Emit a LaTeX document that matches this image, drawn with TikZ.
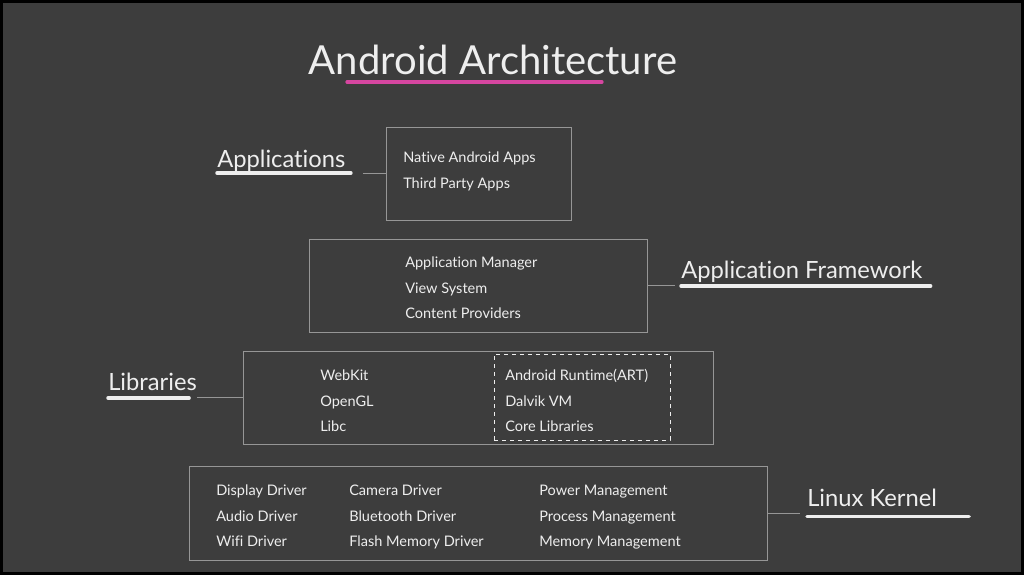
\documentclass[tikz,border=0pt]{standalone}
\usepackage{fontspec}
\setmainfont{Lato}[Ligatures={NoCommon,NoRare}]
\usepackage{tikz}

\definecolor{board}{RGB}{61,61,61}
\definecolor{chalkwhite}{RGB}{238,238,238}
\definecolor{boxline}{RGB}{150,150,150}
\definecolor{chalkpink}{RGB}{214,70,160}

\tikzset{
  box/.style={draw=boxline, line width=0.7pt, inner sep=0pt},
  item/.style={anchor=base west, inner sep=0pt, text=chalkwhite, font=\fontsize{10.9}{12}\selectfont},
  layer/.style={anchor=base west, inner sep=0pt, text=chalkwhite, font=\fontsize{17.8}{20}\selectfont},
  chalk/.style={draw=chalkwhite, line width=2.6pt, line cap=round},
  link/.style={draw=boxline, line width=0.6pt},
}

\begin{document}
\begin{tikzpicture}[x=0.75pt, y=-0.75pt]

\useasboundingbox (0,0) rectangle (1024,575);
\fill[black] (0,0) rectangle (1024,575);
\fill[board] (3,3) rectangle (1021,572);

% title
\node (title) [anchor=base, inner sep=0pt, text=chalkwhite, font=\fontsize{30}{34}\selectfont] at (493,74) {Android Architecture};
\draw[draw=chalkpink, line width=2.4pt, line cap=round]
  ([xshift=-109.5pt, yshift=-6pt]title.base) -- ([xshift=81.75pt, yshift=-6pt]title.base);

% layer boxes
\node (appsbox) [box, minimum width=185*.75pt, minimum height=93*.75pt] at (478.5,173.5) {};
\node (framebox) [box, minimum width=338*.75pt, minimum height=93*.75pt] at (478,285.5) {};
\node (libbox) [box, minimum width=470*.75pt, minimum height=93*.75pt] at (478,397.5) {};
\node (artbox) [box, dashed, draw=chalkwhite, minimum width=176*.75pt, minimum height=86*.75pt] at (582,397) {};
\node (kernelbox) [box, minimum width=578*.75pt, minimum height=94*.75pt] at (478,513) {};

% applications
\node (native) [item] at (403,162) {Native Android Apps};
\node (third) [item] at (403,188) {Third Party Apps};

% application framework
\node (appman) [item] at (405,267) {Application Manager};
\node (viewsys) [item] at (405,293) {View System};
\node (content) [item] at (405,318) {Content Providers};

% libraries
\node (webkit) [item] at (320,380) {WebKit};
\node (opengl) [item] at (320,406) {OpenGL};
\node (libc) [item] at (320,431) {Libc};
\node (art) [item] at (505,380) {Android Runtime(ART)};
\node (dalvik) [item] at (505,406) {Dalvik VM};
\node (corelib) [item] at (505,431) {Core Libraries};

% linux kernel
\node (display) [item] at (216,495) {Display Driver};
\node (audio) [item] at (216,521) {Audio Driver};
\node (wifi) [item] at (216,546) {Wifi Driver};
\node (camera) [item] at (349,495) {Camera Driver};
\node (bluetooth) [item] at (349,521) {Bluetooth Driver};
\node (flash) [item] at (349,546) {Flash Memory Driver};
\node (power) [item] at (539,495) {Power Management};
\node (process) [item] at (539,521) {Process Management};
\node (memory) [item] at (539,546) {Memory Management};

% layer names
\node (appslbl) [layer] at (217,167) {Applications};
\node (framelbl) [layer] at (681,278) {Application Framework};
\node (liblbl) [layer] at (108,390) {Libraries};
\node (kernellbl) [layer] at (807,506) {Linux Kernel};

\draw[chalk] ([yshift=-4.5pt]appslbl.base west) -- ([yshift=-4.5pt, xshift=4pt]appslbl.base east);
\draw[chalk] ([yshift=-6pt]framelbl.base west) -- ([yshift=-6pt, xshift=6pt]framelbl.base east);
\draw[chalk] ([yshift=-6pt]liblbl.base west) -- ([yshift=-6pt, xshift=-6pt]liblbl.base east);
\draw[chalk] ([yshift=-8pt]kernellbl.base west) -- ([yshift=-8pt, xshift=24pt]kernellbl.base east);

\draw[link, shorten <=13pt] (appslbl.east |- appsbox.west) -- (appsbox.west);
\draw[link, shorten >=4.5pt] (framebox.east) -- (framebox.east -| framelbl.west);
\draw[link] (liblbl.east |- libbox.west) -- (libbox.west);
\draw[link, shorten >=5pt] (kernelbox.east) -- (kernelbox.east -| kernellbl.west);

\end{tikzpicture}
\end{document}
